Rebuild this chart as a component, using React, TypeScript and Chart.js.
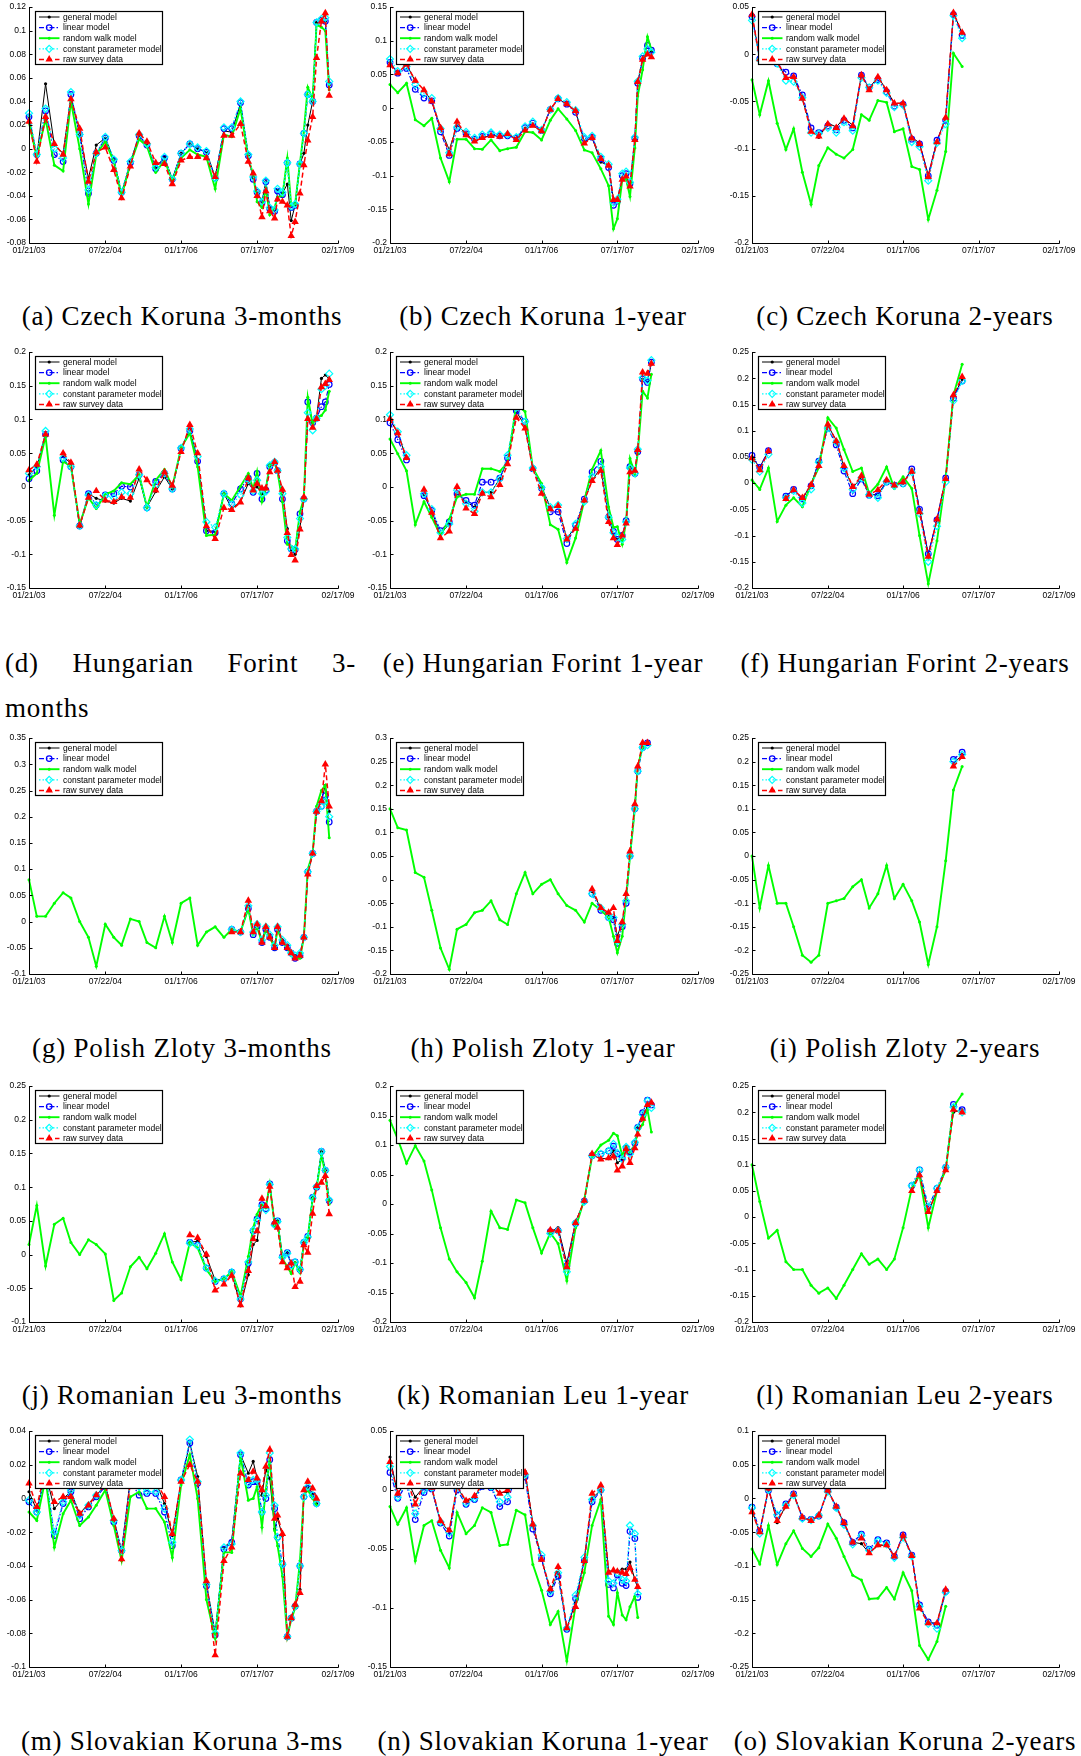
import React, { useEffect, useRef } from "react";
import Chart from "chart.js/auto";

// ---------- shared axis data ----------
const surveyDates = [
  "2003-01-21", "2003-03-18", "2003-05-20", "2003-07-22", "2003-09-23", "2003-11-18",
  "2004-01-20", "2004-03-23", "2004-05-18", "2004-07-22", "2004-09-21", "2004-11-16",
  "2005-01-18", "2005-03-22", "2005-05-17", "2005-07-19", "2005-09-20", "2005-11-15",
  "2006-01-17", "2006-03-21", "2006-05-16", "2006-07-18", "2006-09-19", "2006-11-21",
  "2007-01-16", "2007-03-20", "2007-05-15", "2007-06-19", "2007-07-17", "2007-08-21",
  "2007-09-18", "2007-10-16", "2007-11-20", "2007-12-11", "2008-01-15", "2008-02-19",
  "2008-03-18", "2008-04-15", "2008-05-20", "2008-06-17", "2008-07-15", "2008-08-19",
  "2008-09-16", "2008-10-21", "2008-11-18", "2008-12-16",
];
const xTickDates = ["2003-01-21", "2004-07-22", "2006-01-17", "2007-07-17", "2009-02-17"];
const xTickLabels = ["01/21/03", "07/22/04", "01/17/06", "07/17/07", "02/17/09"];
const seriesNames = ["general model", "linear model", "random walk model", "constant parameter model", "raw survey data"];

// ---------- (a) Czech Koruna 3-months ----------
const aRange = [-0.08, 0.12, 0.02];
const aGen = [0.027, -0.007, 0.055, 0.003, -0.004, 0.044, 0.012, -0.025, 0.003, 0.009, -0.009, -0.038, -0.011, 0.011, 0.003, -0.016, -0.007, -0.026, -0.004, 0.004, 0.0, -0.003, -0.024, 0.015, 0.014, 0.038, -0.006, -0.025, -0.037, -0.045, -0.028, -0.050, -0.052, -0.035, -0.038, -0.030, -0.061, -0.048, -0.013, -0.004, 0.020, 0.040, 0.107, 0.109, 0.108, 0.054];
const aLin = [0.027, -0.005, 0.032, -0.005, -0.011, 0.046, 0.012, -0.038, -0.004, 0.009, -0.010, -0.037, -0.012, 0.011, 0.003, -0.017, -0.008, -0.026, -0.004, 0.004, 0.0, -0.003, -0.025, 0.017, 0.017, 0.039, -0.006, -0.026, -0.037, -0.046, -0.028, -0.051, -0.053, -0.036, -0.039, -0.012, -0.050, -0.048, -0.013, 0.013, 0.046, 0.040, 0.107, 0.109, 0.108, 0.054];
const aRw = [0.022, -0.007, 0.025, -0.014, -0.019, 0.040, 0.0, -0.047, -0.005, 0.006, -0.011, -0.040, -0.013, 0.008, 0.002, -0.020, -0.010, -0.027, -0.008, -0.001, -0.005, -0.007, -0.034, 0.012, 0.010, 0.034, -0.008, -0.022, -0.045, -0.050, -0.034, -0.056, -0.050, -0.041, -0.040, -0.008, -0.048, -0.047, -0.012, 0.015, 0.052, 0.042, 0.105, 0.103, 0.100, 0.050];
const aCpm = [0.030, -0.005, 0.034, 0.0, -0.008, 0.048, 0.012, -0.035, -0.004, 0.010, -0.009, -0.037, -0.011, 0.012, 0.004, -0.016, -0.007, -0.026, -0.004, 0.004, 0.001, -0.002, -0.025, 0.018, 0.018, 0.040, -0.005, -0.024, -0.036, -0.045, -0.027, -0.050, -0.052, -0.034, -0.037, -0.012, -0.049, -0.047, -0.013, 0.013, 0.046, 0.040, 0.107, 0.110, 0.111, 0.057];
const aRaw = [0.023, -0.011, 0.027, 0.004, -0.005, 0.042, 0.017, -0.028, -0.003, 0.001, -0.018, -0.042, -0.015, 0.013, 0.006, -0.012, -0.013, -0.030, -0.010, -0.007, -0.007, -0.008, -0.024, 0.011, 0.011, 0.021, -0.011, -0.021, -0.040, -0.058, -0.036, -0.053, -0.059, -0.043, -0.045, -0.048, -0.074, -0.062, -0.038, -0.014, 0.007, 0.027, 0.077, 0.108, 0.115, 0.045];

// ---------- (b) Czech Koruna 1-year ----------
const bRange = [-0.2, 0.15, 0.05];
const bGen = [0.068, 0.052, 0.065, 0.040, 0.027, 0.010, -0.030, -0.062, -0.025, -0.038, -0.049, -0.044, -0.040, -0.042, -0.038, -0.045, -0.030, -0.026, -0.034, -0.002, 0.014, 0.006, -0.004, -0.050, -0.044, -0.080, -0.085, -0.136, -0.136, -0.104, -0.101, -0.116, -0.047, 0.039, 0.072, 0.080, 0.084];
const bLin = [0.068, 0.052, 0.059, 0.028, 0.015, 0.011, -0.035, -0.070, -0.030, -0.038, -0.046, -0.042, -0.038, -0.041, -0.041, -0.044, -0.029, -0.022, -0.033, -0.002, 0.014, 0.006, -0.006, -0.045, -0.043, -0.075, -0.088, -0.144, -0.138, -0.100, -0.097, -0.112, -0.045, 0.037, 0.074, 0.093, 0.086];
const bRw = [0.035, 0.023, 0.037, -0.017, -0.026, -0.015, -0.074, -0.109, -0.046, -0.046, -0.060, -0.061, -0.047, -0.063, -0.060, -0.058, -0.035, -0.036, -0.047, -0.018, -0.001, -0.016, -0.033, -0.062, -0.066, -0.090, -0.115, -0.179, -0.164, -0.107, -0.105, -0.131, -0.059, 0.018, 0.057, 0.106, 0.087];
const bCpm = [0.073, 0.055, 0.062, 0.035, 0.022, 0.015, -0.030, -0.066, -0.028, -0.035, -0.044, -0.039, -0.036, -0.039, -0.039, -0.043, -0.027, -0.020, -0.032, -0.002, 0.015, 0.009, -0.003, -0.043, -0.041, -0.072, -0.083, -0.140, -0.135, -0.097, -0.094, -0.110, -0.043, 0.040, 0.077, 0.088, 0.083];
const bRaw = [0.064, 0.052, 0.065, 0.041, 0.027, 0.010, -0.029, -0.068, -0.020, -0.040, -0.049, -0.044, -0.041, -0.042, -0.038, -0.047, -0.033, -0.026, -0.034, -0.002, 0.014, 0.006, -0.004, -0.052, -0.044, -0.075, -0.085, -0.136, -0.136, -0.106, -0.101, -0.116, -0.047, 0.039, 0.072, 0.080, 0.076];

// ---------- (c) Czech Koruna 2-years ----------
const cRange = [-0.2, 0.05, 0.05];
const cGen = [0.042, -0.005, 0.002, -0.008, -0.025, -0.024, -0.047, -0.080, -0.088, -0.073, -0.077, -0.068, -0.075, -0.022, -0.036, -0.024, -0.038, -0.052, -0.052, -0.088, -0.094, -0.128, -0.092, -0.067, 0.044, 0.022];
const cLin = [0.040, -0.005, 0.0, -0.010, -0.019, -0.023, -0.043, -0.078, -0.083, -0.076, -0.080, -0.070, -0.078, -0.022, -0.035, -0.027, -0.040, -0.055, -0.053, -0.090, -0.095, -0.129, -0.091, -0.070, 0.042, 0.020];
const cRw = [-0.027, -0.064, -0.028, -0.073, -0.101, -0.079, -0.125, -0.159, -0.118, -0.099, -0.106, -0.110, -0.101, -0.064, -0.070, -0.049, -0.051, -0.082, -0.079, -0.119, -0.122, -0.175, -0.144, -0.103, 0.001, -0.013];
const cCpm = [0.036, -0.006, 0.0, -0.010, -0.028, -0.029, -0.046, -0.083, -0.084, -0.078, -0.083, -0.072, -0.081, -0.025, -0.035, -0.028, -0.041, -0.056, -0.054, -0.093, -0.098, -0.134, -0.094, -0.074, 0.041, 0.017];
const cRaw = [0.042, -0.005, 0.002, -0.008, -0.025, -0.024, -0.047, -0.082, -0.087, -0.074, -0.078, -0.068, -0.076, -0.022, -0.038, -0.024, -0.038, -0.052, -0.052, -0.089, -0.095, -0.130, -0.093, -0.067, 0.044, 0.023];

// ---------- (d) Hungarian Forint 3-months ----------
const dRange = [-0.15, 0.2, 0.05];
const dGen = [0.018, 0.030, 0.078, null, 0.045, 0.035, -0.060, -0.010, -0.017, -0.021, -0.024, -0.017, -0.021, 0.013, -0.030, -0.007, 0.015, -0.003, 0.057, 0.085, 0.040, -0.065, -0.066, -0.010, -0.032, -0.022, 0.005, -0.003, 0.0, -0.010, -0.001, 0.030, 0.038, 0.025, -0.008, -0.062, -0.095, -0.100, -0.060, -0.018, 0.101, 0.095, 0.104, 0.161, 0.166, 0.160];
const dLin = [0.012, 0.024, 0.078, null, 0.040, 0.030, -0.058, -0.010, -0.027, -0.012, -0.010, 0.001, 0.0, 0.018, -0.031, 0.008, 0.020, -0.003, 0.057, 0.083, 0.038, -0.065, -0.068, -0.010, -0.025, -0.003, 0.013, -0.008, 0.020, -0.018, -0.005, 0.030, 0.036, 0.024, -0.018, -0.080, -0.092, -0.093, -0.040, -0.018, 0.126, 0.095, 0.102, 0.119, 0.126, 0.152];
const dRw = [0.010, 0.020, 0.075, -0.042, 0.038, 0.030, -0.055, -0.016, -0.032, -0.011, -0.006, 0.006, 0.004, 0.018, -0.030, 0.010, 0.026, 0.0, 0.058, 0.080, 0.030, -0.072, -0.071, -0.010, -0.020, 0.001, 0.020, -0.003, 0.023, -0.022, -0.003, 0.033, 0.035, 0.022, -0.022, -0.085, -0.088, -0.094, -0.037, -0.017, 0.133, 0.093, 0.103, 0.106, 0.114, 0.142];
const dCpm = [0.020, 0.030, 0.083, null, 0.043, 0.030, -0.058, -0.012, -0.027, -0.013, -0.016, -0.008, -0.010, 0.018, -0.031, 0.003, 0.020, -0.003, 0.058, 0.086, 0.045, -0.052, -0.060, -0.010, -0.026, -0.012, 0.010, -0.006, 0.010, -0.010, -0.007, 0.032, 0.037, 0.024, -0.010, -0.075, -0.092, -0.092, -0.047, -0.018, 0.110, 0.084, 0.102, 0.145, 0.150, 0.168];
const dRaw = [0.025, 0.033, 0.078, null, 0.050, 0.036, -0.057, -0.016, -0.006, -0.020, -0.022, -0.015, -0.016, 0.026, 0.010, -0.005, 0.022, 0.002, 0.052, 0.092, 0.050, -0.058, -0.077, -0.031, -0.034, -0.023, 0.013, -0.005, 0.005, -0.002, -0.002, 0.022, 0.037, 0.024, -0.004, -0.068, -0.101, -0.109, -0.063, -0.015, 0.101, 0.088, 0.101, 0.148, 0.153, 0.159];

// ---------- (e) Hungarian Forint 1-year ----------
const eRange = [-0.15, 0.2, 0.05];
const eGen = [0.100, 0.080, 0.042, null, -0.012, -0.036, -0.070, -0.055, -0.010, -0.022, -0.030, -0.008, -0.008, 0.012, 0.040, 0.112, 0.090, 0.028, 0.0, -0.030, -0.030, -0.076, -0.060, -0.020, 0.010, 0.028, -0.045, -0.070, -0.078, -0.072, -0.052, 0.030, 0.022, 0.052, 0.160, 0.156, 0.183];
const eLin = [0.095, 0.070, 0.040, null, -0.013, -0.035, -0.065, -0.052, -0.010, -0.020, -0.027, 0.007, 0.007, 0.013, 0.043, 0.113, 0.097, 0.027, -0.002, -0.037, -0.037, -0.084, -0.057, -0.018, 0.022, 0.038, -0.045, -0.066, -0.078, -0.072, -0.050, 0.030, 0.020, 0.052, 0.160, 0.155, 0.185];
const eRw = [0.071, 0.049, 0.024, -0.056, -0.022, -0.045, -0.072, -0.048, -0.015, -0.011, -0.011, 0.027, 0.027, 0.023, 0.036, 0.122, 0.112, 0.028, 0.005, -0.056, -0.063, -0.112, -0.076, -0.020, 0.026, 0.054, -0.030, -0.060, -0.059, -0.085, -0.052, 0.042, 0.019, 0.050, 0.142, 0.132, 0.167];
const eCpm = [0.107, 0.082, 0.047, null, -0.010, -0.033, -0.068, -0.055, -0.005, -0.025, -0.036, -0.008, -0.008, 0.012, 0.047, 0.118, 0.097, 0.028, -0.001, -0.030, -0.027, -0.077, -0.055, -0.022, 0.015, 0.030, -0.045, -0.068, -0.075, -0.078, -0.052, 0.028, 0.020, 0.056, 0.162, 0.158, 0.188];
const eRaw = [0.101, 0.080, 0.043, null, -0.004, -0.038, -0.076, -0.066, 0.0, -0.032, -0.040, -0.010, -0.015, 0.003, 0.034, 0.103, 0.087, 0.027, -0.010, -0.033, -0.028, -0.078, -0.062, -0.020, 0.009, 0.024, -0.052, -0.076, -0.086, -0.072, -0.054, 0.022, 0.024, 0.055, 0.170, 0.168, 0.183];

// ---------- (f) Hungarian Forint 2-years ----------
const fRange = [-0.2, 0.25, 0.05];
const fGen = [0.050, 0.030, 0.062, null, -0.025, -0.012, -0.030, -0.002, 0.040, 0.110, 0.082, 0.030, -0.008, 0.010, -0.022, -0.022, 0.004, -0.004, 0.0, 0.026, -0.050, -0.135, -0.070, 0.010, 0.165, 0.198];
const fLin = [0.053, 0.030, 0.062, null, -0.025, -0.012, -0.030, -0.005, 0.042, 0.105, 0.073, 0.023, -0.020, 0.008, -0.023, -0.024, 0.002, -0.004, -0.001, 0.027, -0.050, -0.135, -0.070, 0.010, 0.162, 0.195];
const fRw = [0.006, -0.012, 0.029, -0.073, -0.042, -0.028, -0.045, -0.002, 0.030, 0.125, 0.105, 0.064, 0.022, 0.029, -0.020, -0.002, 0.031, -0.010, 0.012, -0.010, -0.100, -0.192, -0.110, 0.010, 0.168, 0.227];
const fCpm = [0.045, 0.022, 0.055, null, -0.028, -0.015, -0.038, -0.012, 0.040, 0.105, 0.078, 0.028, -0.012, 0.010, -0.022, -0.028, 0.003, -0.005, -0.001, 0.021, -0.058, -0.150, -0.082, 0.002, 0.157, 0.195];
const fRaw = [0.048, 0.025, 0.061, null, -0.030, -0.013, -0.028, -0.003, 0.033, 0.112, 0.080, 0.033, -0.007, 0.014, -0.022, -0.013, 0.006, -0.004, 0.002, 0.022, -0.055, -0.140, -0.069, 0.008, 0.168, 0.203];

// ---------- (g) Polish Zloty 3-months (models from survey #24) ----------
const gRange = [-0.1, 0.35, 0.05];
const gStart = 24;
const gGen = [-0.015, -0.02, 0.03, -0.02, -0.005, -0.035, -0.01, -0.025, -0.045, -0.01, -0.035, -0.045, -0.06, -0.065, -0.06, -0.03, 0.09, 0.13, 0.21, 0.23, 0.26, 0.21];
const gLin = [-0.015, -0.02, 0.025, -0.025, -0.01, -0.04, -0.015, -0.03, -0.05, -0.015, -0.04, -0.05, -0.06, -0.07, -0.065, -0.03, 0.095, 0.13, 0.21, 0.22, 0.24, 0.19];
const gRw = [0.08, 0.01, 0.01, 0.035, 0.055, 0.045, 0.0, -0.03, -0.085, -0.005, -0.03, -0.045, 0.005, 0.0, -0.04, -0.05, 0.01, -0.04, 0.035, 0.045, -0.045, -0.02, -0.01, -0.03, -0.015, -0.02, 0.025, -0.025, -0.01, -0.04, -0.015, -0.03, -0.05, -0.015, -0.04, -0.05, -0.065, -0.07, -0.07, -0.03, 0.1, 0.13, 0.22, 0.25, 0.26, 0.16];
const gCpm = [-0.015, -0.02, 0.03, -0.02, -0.005, -0.035, -0.01, -0.025, -0.045, -0.01, -0.035, -0.045, -0.06, -0.065, -0.06, -0.03, 0.095, 0.13, 0.21, 0.22, 0.23, 0.20];
const gRaw = [-0.02, -0.02, 0.04, -0.02, -0.005, -0.04, -0.01, -0.03, -0.05, -0.01, -0.04, -0.05, -0.06, -0.07, -0.065, -0.03, 0.09, 0.13, 0.21, 0.23, 0.30, 0.22];

// ---------- (h) Polish Zloty 1-year ----------
const hRange = [-0.2, 0.3, 0.05];
const hStart = 24;
const hGen = [-0.025, -0.06, -0.075, -0.08, -0.12, -0.09, -0.04, 0.05, 0.16, 0.24, 0.28, 0.29];
const hLin = [-0.03, -0.065, -0.08, -0.085, -0.135, -0.10, -0.05, 0.05, 0.15, 0.23, 0.28, 0.29];
const hRw = [0.15, 0.11, 0.105, 0.015, 0.005, -0.065, -0.145, -0.19, -0.105, -0.095, -0.07, -0.065, -0.045, -0.085, -0.095, -0.03, 0.015, -0.03, -0.01, 0.0, -0.03, -0.055, -0.065, -0.09, -0.05, -0.065, -0.08, -0.12, -0.155, -0.12, -0.04, 0.05, 0.15, 0.24, 0.28, 0.29];
const hCpm = [-0.03, -0.06, -0.08, -0.08, -0.13, -0.095, -0.045, 0.05, 0.15, 0.23, 0.28, 0.285];
const hRaw = [-0.02, -0.06, -0.07, -0.06, -0.13, -0.09, -0.03, 0.06, 0.16, 0.24, 0.29, 0.29];

// ---------- (i) Polish Zloty 2-years ----------
const iRange = [-0.25, 0.25, 0.05];
const iStart = 24;
const iGen = [0.195, 0.215];
const iLin = [0.205, 0.22];
const iRw = [0.0, -0.11, -0.02, -0.10, -0.10, -0.15, -0.21, -0.225, -0.21, -0.10, -0.095, -0.09, -0.065, -0.05, -0.11, -0.08, -0.02, -0.09, -0.06, -0.095, -0.14, -0.23, -0.15, -0.01, 0.14, 0.19];
const iCpm = [0.2, 0.215];
const iRaw = [0.19, 0.21];

// ---------- (j) Romanian Leu 3-months ----------
const jRange = [-0.1, 0.25, 0.05];
const jStart = 19;
const jGen = [0.018, 0.020, -0.003, -0.038, -0.036, -0.027, -0.076, -0.030, 0.015, 0.021, 0.074, 0.070, 0.105, 0.045, 0.050, -0.002, 0.003, -0.013, -0.012, -0.022, 0.018, 0.025, 0.085, 0.100, 0.153, 0.125, 0.080];
const jLin = [0.018, 0.014, -0.020, -0.040, -0.036, -0.026, -0.066, -0.013, 0.035, 0.053, 0.074, 0.068, 0.105, 0.045, 0.050, -0.003, 0.003, -0.015, -0.011, -0.022, 0.018, 0.027, 0.085, 0.100, 0.153, 0.125, 0.080];
const jRw = [0.015, 0.073, -0.017, 0.045, 0.054, 0.018, 0.0, 0.022, 0.015, 0.001, -0.068, -0.057, -0.018, -0.004, -0.021, 0.002, 0.031, -0.011, -0.037, 0.018, 0.010, -0.022, -0.040, -0.036, -0.025, -0.062, -0.003, 0.040, 0.060, 0.075, 0.070, 0.104, 0.043, 0.048, -0.006, -0.018, -0.028, -0.012, -0.027, 0.016, 0.026, 0.083, 0.098, 0.148, 0.120, 0.075];
const jCpm = [0.017, 0.013, -0.020, -0.039, -0.036, -0.026, -0.066, -0.011, 0.036, 0.051, 0.072, 0.066, 0.104, 0.044, 0.049, -0.004, 0.002, -0.016, -0.011, -0.022, 0.018, 0.026, 0.084, 0.101, 0.153, 0.125, 0.081];
const jRaw = [0.029, 0.025, 0.0, -0.053, -0.044, -0.031, -0.075, -0.024, 0.023, 0.035, 0.083, 0.072, 0.101, 0.048, 0.040, -0.011, -0.020, -0.013, -0.048, -0.040, 0.014, 0.003, 0.061, 0.102, 0.107, 0.117, 0.060];

// ---------- (k) Romanian Leu 1-year ----------
const kRange = [-0.2, 0.2, 0.05];
const kStart = 19;
const kGen = [-0.047, -0.040, -0.100, -0.030, 0.006, 0.083, 0.077, 0.077, 0.090, 0.070, 0.075, 0.095, 0.086, 0.102, 0.130, 0.150, 0.165, 0.170];
const kLin = [-0.047, -0.045, -0.105, -0.033, 0.005, 0.082, 0.085, 0.090, 0.098, 0.085, 0.078, 0.095, 0.088, 0.103, 0.130, 0.155, 0.176, 0.168];
const kRw = [0.142, 0.110, 0.069, 0.099, 0.073, 0.024, -0.040, -0.093, -0.115, -0.133, -0.159, -0.097, -0.012, -0.040, -0.043, 0.007, 0.002, -0.040, -0.083, -0.049, -0.067, -0.130, -0.040, 0.008, 0.080, 0.100, 0.108, 0.120, 0.116, 0.082, 0.097, 0.088, 0.100, 0.122, 0.135, 0.160, 0.122];
const kCpm = [-0.050, -0.045, -0.115, -0.032, 0.004, 0.082, 0.085, 0.090, 0.102, 0.087, 0.076, 0.097, 0.085, 0.105, 0.129, 0.152, 0.175, 0.163];
const kRaw = [-0.044, -0.045, -0.107, -0.032, 0.006, 0.085, 0.076, 0.078, 0.081, 0.057, 0.064, 0.093, 0.070, 0.095, 0.118, 0.145, 0.168, 0.172];

// ---------- (l) Romanian Leu 2-years ----------
const lRange = [-0.2, 0.25, 0.05];
const lStart = 19;
const lGen = [0.055, 0.085, 0.01, 0.05, 0.095, 0.20, 0.205];
const lLin = [0.06, 0.09, 0.02, 0.055, 0.095, 0.215, 0.205];
const lRw = [0.10, 0.03, -0.04, -0.025, -0.085, -0.10, -0.10, -0.13, -0.145, -0.135, -0.155, -0.13, -0.10, -0.07, -0.09, -0.08, -0.10, -0.08, -0.02, 0.055, 0.08, -0.02, 0.05, 0.09, 0.21, 0.235];
const lCpm = [0.06, 0.09, 0.02, 0.055, 0.095, 0.21, 0.20];
const lRaw = [0.05, 0.08, 0.01, 0.05, 0.09, 0.205, 0.20];

// ---------- (m) Slovakian Koruna 3-months ----------
const mRange = [-0.1, 0.04, 0.02];
const mGen = [0.004, -0.007, 0.015, -0.006, 0.0, 0.004, -0.009, -0.003, 0.002, 0.008, -0.012, -0.031, 0.012, 0.008, 0.010, 0.010, -0.003, -0.022, 0.010, 0.033, 0.013, -0.050, -0.080, -0.029, -0.025, 0.026, 0.015, 0.022, 0.012, 0.002, 0.017, 0.012, -0.018, -0.012, -0.022, -0.082, -0.071, -0.064, -0.054, 0.002, 0.007, 0.003, -0.003];
const mLin = [-0.002, -0.008, 0.014, -0.022, -0.003, 0.004, -0.012, -0.005, 0.001, 0.007, -0.014, -0.031, 0.010, 0.002, 0.003, 0.003, -0.008, -0.028, 0.011, 0.033, 0.009, -0.052, -0.081, -0.030, -0.026, 0.026, 0.008, 0.010, 0.010, -0.008, 0.0, 0.023, -0.006, -0.023, -0.039, -0.082, -0.071, -0.064, -0.040, 0.001, 0.006, 0.002, -0.003];
const mRw = [-0.008, -0.013, 0.012, -0.029, -0.009, -0.001, -0.016, -0.011, -0.004, 0.005, -0.016, -0.037, 0.001, 0.004, -0.006, -0.006, -0.014, -0.035, 0.008, 0.026, 0.0, -0.060, -0.083, -0.032, -0.032, 0.025, -0.001, 0.0, 0.007, -0.017, 0.005, 0.025, -0.019, -0.028, -0.046, -0.082, -0.072, -0.065, -0.037, 0.002, 0.005, 0.0, -0.004];
const mCpm = [-0.001, -0.008, 0.015, -0.020, -0.002, 0.005, -0.010, -0.004, 0.002, 0.008, -0.013, -0.031, 0.010, 0.007, 0.004, 0.004, -0.006, -0.026, 0.011, 0.035, 0.010, -0.051, -0.080, -0.029, -0.027, 0.027, 0.009, 0.011, 0.011, -0.008, 0.002, 0.027, -0.004, -0.023, -0.039, -0.082, -0.071, -0.064, -0.040, 0.001, 0.007, 0.002, -0.003];
const mRaw = [0.009, -0.005, 0.018, -0.002, 0.001, 0.001, -0.009, -0.004, 0.002, 0.008, -0.012, -0.036, 0.010, 0.008, 0.012, 0.010, 0.001, -0.021, 0.010, 0.020, 0.010, -0.049, -0.093, -0.037, -0.029, 0.015, 0.011, 0.016, 0.012, 0.005, 0.019, 0.029, -0.012, -0.010, -0.021, -0.082, -0.071, -0.063, -0.056, 0.005, 0.010, 0.006, 0.0];

// ---------- (n) Slovakian Koruna 1-year ----------
const nRange = [-0.15, 0.05, 0.05];
const nGen = [0.028, -0.004, 0.010, -0.006, 0.003, 0.001, -0.027, -0.035, 0.003, -0.010, -0.006, 0.005, 0.004, -0.002, -0.002, 0.016, 0.016, -0.028, -0.058, -0.086, -0.070, -0.117, -0.095, -0.058, -0.007, 0.0, -0.069, -0.068, -0.069, -0.067, -0.067, -0.061, -0.076, -0.083];
const nLin = [0.015, -0.007, 0.005, -0.025, -0.002, 0.001, -0.028, -0.039, 0.0, -0.012, -0.008, 0.003, 0.002, -0.014, -0.010, 0.014, 0.011, -0.033, -0.058, -0.088, -0.073, -0.118, -0.092, -0.060, -0.010, 0.0, -0.080, -0.083, -0.072, -0.079, -0.081, -0.035, -0.041, -0.091];
const nRw = [-0.014, -0.029, -0.015, -0.060, -0.030, -0.026, -0.051, -0.066, -0.019, -0.037, -0.030, -0.015, -0.019, -0.047, -0.046, -0.017, -0.021, -0.063, -0.085, -0.114, -0.103, -0.145, -0.098, -0.070, -0.030, -0.008, -0.107, -0.114, -0.087, -0.106, -0.110, -0.099, -0.090, -0.108];
const nCpm = [0.020, -0.006, 0.008, -0.020, 0.0, 0.002, -0.027, -0.036, 0.002, -0.011, -0.007, 0.004, 0.003, -0.010, -0.006, 0.015, 0.013, -0.030, -0.055, -0.086, -0.070, -0.117, -0.089, -0.057, -0.008, 0.0, -0.077, -0.079, -0.070, -0.076, -0.077, -0.030, -0.037, -0.088];
const nRaw = [0.024, -0.003, 0.010, -0.012, 0.005, 0.002, -0.026, -0.034, 0.003, -0.009, -0.005, 0.005, 0.004, -0.003, 0.0, 0.015, 0.015, -0.029, -0.059, -0.084, -0.065, -0.117, -0.099, -0.060, -0.003, 0.004, -0.070, -0.068, -0.069, -0.070, -0.071, -0.066, -0.076, -0.082];

// ---------- (o) Slovakian Koruna 2-years ----------
const oRange = [-0.25, 0.1, 0.05];
const oGen = [-0.018, -0.050, 0.015, -0.036, -0.010, 0.007, -0.028, -0.033, -0.026, 0.012, -0.012, -0.037, -0.065, -0.067, -0.081, -0.070, -0.069, -0.086, -0.055, -0.084, -0.160, -0.184, -0.185, -0.136];
const oLin = [-0.013, -0.048, 0.012, -0.025, -0.008, 0.007, -0.029, -0.031, -0.026, 0.012, -0.013, -0.036, -0.065, -0.053, -0.075, -0.061, -0.066, -0.086, -0.054, -0.084, -0.158, -0.183, -0.188, -0.138];
const oRw = [-0.075, -0.097, -0.040, -0.098, -0.067, -0.048, -0.074, -0.086, -0.073, -0.038, -0.059, -0.086, -0.114, -0.121, -0.149, -0.148, -0.132, -0.149, -0.110, -0.137, -0.218, -0.239, -0.212, -0.160];
const oCpm = [-0.014, -0.052, 0.013, -0.024, -0.010, 0.005, -0.030, -0.032, -0.025, 0.010, -0.014, -0.039, -0.068, -0.055, -0.077, -0.063, -0.068, -0.088, -0.058, -0.086, -0.160, -0.186, -0.193, -0.139];
const oRaw = [-0.020, -0.050, 0.015, -0.033, -0.012, 0.006, -0.028, -0.033, -0.025, 0.012, -0.012, -0.036, -0.065, -0.059, -0.081, -0.069, -0.069, -0.086, -0.055, -0.085, -0.163, -0.185, -0.185, -0.135];

const captions = [
  "(a) Czech Koruna 3-months", "(b) Czech Koruna 1-year", "(c) Czech Koruna 2-years",
  "(d) Hungarian Forint 3-months", "(e) Hungarian Forint 1-year", "(f) Hungarian Forint 2-years",
  "(g) Polish Zloty 3-months", "(h) Polish Zloty 1-year", "(i) Polish Zloty 2-years",
  "(j) Romanian Leu 3-months", "(k) Romanian Leu 1-year", "(l) Romanian Leu 2-years",
  "(m) Slovakian Koruna 3-ms", "(n) Slovakian Koruna 1-year", "(o) Slovakian Koruna 2-years",
];

// ---------- panel table (built from the arrays above) ----------
type Panel = { range: number[]; start: number; series: (number | null)[][] };
const PANELS: Panel[] = [
  { range: aRange, start: 0, series: [aGen, aLin, aRw, aCpm, aRaw] },
  { range: bRange, start: 0, series: [bGen, bLin, bRw, bCpm, bRaw] },
  { range: cRange, start: 0, series: [cGen, cLin, cRw, cCpm, cRaw] },
  { range: dRange, start: 0, series: [dGen, dLin, dRw, dCpm, dRaw] },
  { range: eRange, start: 0, series: [eGen, eLin, eRw, eCpm, eRaw] },
  { range: fRange, start: 0, series: [fGen, fLin, fRw, fCpm, fRaw] },
  { range: gRange, start: gStart, series: [gGen, gLin, gRw, gCpm, gRaw] },
  { range: hRange, start: hStart, series: [hGen, hLin, hRw, hCpm, hRaw] },
  { range: iRange, start: iStart, series: [iGen, iLin, iRw, iCpm, iRaw] },
  { range: jRange, start: jStart, series: [jGen, jLin, jRw, jCpm, jRaw] },
  { range: kRange, start: kStart, series: [kGen, kLin, kRw, kCpm, kRaw] },
  { range: lRange, start: lStart, series: [lGen, lLin, lRw, lCpm, lRaw] },
  { range: mRange, start: 0, series: [mGen, mLin, mRw, mCpm, mRaw] },
  { range: nRange, start: 0, series: [nGen, nLin, nRw, nCpm, nRaw] },
  { range: oRange, start: 0, series: [oGen, oLin, oRw, oCpm, oRaw] },
];

// ---------- layout & style ----------
const DAY0 = Date.UTC(2003, 0, 21);
const toDay = (s: string) => {
  const [y, m, d] = s.split("-").map(Number);
  return Math.round((Date.UTC(y, m - 1, d) - DAY0) / 86400000);
};
const surveyDays = surveyDates.map(toDay);
const xTickDays = xTickDates.map(toDay);

const COL_LEFT = [29, 390, 752];
const COL_W = [309, 308, 307];
const ROW_TOP = [7, 352, 738, 1086, 1431];
const PLOT_H = 236;
const PAD_L = 40, PAD_T = 8, PAD_R = 26, PAD_B = 22;
const CAP_X = [182, 543, 905];
const CAP_Y = [316, 663, 1048, 1395, 1741];
const TICK_FONT = '"Liberation Sans", Arial, Helvetica, sans-serif';

const STYLES = [
  { color: "#000000", width: 1, dash: [] as number[], point: "circle", r: 1.6, fill: true },
  { color: "#0000ff", width: 1.2, dash: [5, 2, 1.5, 2], point: "circle", r: 2.8, fill: false },
  { color: "#00ff00", width: 1.9, dash: [] as number[], point: "circle", r: 1.5, fill: true },
  { color: "#00ffff", width: 1.2, dash: [1.5, 2], point: "rectRot", r: 3.5, fill: false },
  { color: "#ff0000", width: 1.5, dash: [5, 3], point: "triangle", r: 4.3, fill: true },
];

function fmtY(v: number) {
  const r = Math.round(v * 10000) / 10000;
  return r === 0 ? "0" : String(r);
}

function drawMarker(ctx: CanvasRenderingContext2D, st: any, x: number, y: number) {
  ctx.setLineDash([]);
  ctx.beginPath();
  const r = st.r;
  if (st.point === "circle") ctx.arc(x, y, r, 0, Math.PI * 2);
  else if (st.point === "rectRot") {
    ctx.moveTo(x, y - r); ctx.lineTo(x + r, y); ctx.lineTo(x, y + r); ctx.lineTo(x - r, y); ctx.closePath();
  } else {
    ctx.moveTo(x, y - r); ctx.lineTo(x + r * 0.866, y + r * 0.5); ctx.lineTo(x - r * 0.866, y + r * 0.5); ctx.closePath();
  }
  if (st.fill) { ctx.fillStyle = st.color; ctx.fill(); }
  else { ctx.strokeStyle = st.color; ctx.lineWidth = 1.2; ctx.stroke(); }
}

const axesLegendPlugin = {
  id: "axesLegend",
  afterDraw(chart: any) {
    const { ctx, chartArea: a, scales } = chart;
    ctx.save();
    const L = Math.round(a.left) + 0.5;
    const B = Math.round(a.bottom) + 0.5;
    ctx.strokeStyle = "#000";
    ctx.lineWidth = 1;
    ctx.setLineDash([]);
    ctx.beginPath();
    ctx.moveTo(L, Math.round(a.top));
    ctx.lineTo(L, B);
    ctx.lineTo(Math.round(a.right) + 0.5, B);
    scales.y.ticks.forEach((t: any) => {
      const y = Math.round(scales.y.getPixelForValue(t.value)) + 0.5;
      ctx.moveTo(L, y); ctx.lineTo(L + 3, y);
    });
    scales.x.ticks.forEach((t: any) => {
      const x = Math.round(scales.x.getPixelForValue(t.value)) + 0.5;
      ctx.moveTo(x, B); ctx.lineTo(x, B - 3);
    });
    ctx.stroke();

    const bx = Math.round(a.left + 6) + 0.5;
    const by = Math.round(a.top + 4) + 0.5;
    const bw = 127, bh = 53;
    ctx.fillStyle = "#fff";
    ctx.fillRect(bx, by, bw, bh);
    ctx.strokeStyle = "#000";
    ctx.lineWidth = 1.2;
    ctx.strokeRect(bx, by, bw, bh);
    ctx.font = `8.5px ${TICK_FONT}`;
    ctx.textBaseline = "middle";
    ctx.textAlign = "left";
    STYLES.forEach((st, i) => {
      const y = by + 5.5 + i * 10.6;
      ctx.beginPath();
      ctx.strokeStyle = st.color;
      ctx.lineWidth = st.width;
      ctx.setLineDash(st.dash);
      ctx.moveTo(bx + 3.5, y);
      ctx.lineTo(bx + 24, y);
      ctx.stroke();
      drawMarker(ctx, st, bx + 13.7, y);
      ctx.fillStyle = "#000";
      ctx.fillText(seriesNames[i], bx + 27.5, y + 0.5);
    });
    ctx.restore();
  },
};

function PanelChart({ p, idx }: { p: Panel; idx: number }) {
  const ref = useRef<HTMLCanvasElement | null>(null);
  const col = idx % 3;
  const row = Math.floor(idx / 3);
  const W = PAD_L + COL_W[col] + PAD_R;
  const H = PAD_T + PLOT_H + PAD_B;

  useEffect(() => {
    if (!ref.current) return;
    const [yMin, yMax, yStep] = p.range;
    const n = Math.round((yMax - yMin) / yStep);
    const yTicks = Array.from({ length: n + 1 }, (_, i) => Math.round((yMin + i * yStep) * 10000) / 10000);
    const datasets = p.series.map((vals, si) => {
      const st = STYLES[si];
      const start = si === 2 ? 0 : p.start;
      return {
        label: seriesNames[si],
        data: vals.map((v, i) => ({ x: surveyDays[start + i], y: v })),
        borderColor: st.color,
        backgroundColor: st.color,
        borderWidth: st.width,
        borderDash: st.dash,
        pointStyle: st.point,
        pointRadius: st.r,
        pointHoverRadius: st.r,
        pointBackgroundColor: st.fill ? st.color : "rgba(0,0,0,0)",
        pointBorderColor: st.color,
        pointBorderWidth: st.fill ? 0 : 1.2,
        tension: 0,
        spanGaps: false,
        fill: false,
        clip: false,
        order: 5 - si,
      };
    });
    const tickFont = { family: TICK_FONT, size: 8.5 };
    const chart = new Chart(ref.current, {
      type: "line",
      data: { datasets } as any,
      options: {
        responsive: false,
        maintainAspectRatio: false,
        animation: false,
        devicePixelRatio: 1,
        events: [],
        layout: { padding: { left: 0, top: PAD_T, right: PAD_R, bottom: 0 } },
        plugins: { legend: { display: false }, tooltip: { enabled: false }, title: { display: false } },
        scales: {
          x: {
            type: "linear",
            min: 0,
            max: xTickDays[xTickDays.length - 1],
            grid: { display: false, drawTicks: false },
            border: { display: false },
            ticks: {
              autoSkip: false, maxRotation: 0, minRotation: 0, padding: 3, color: "#000", font: tickFont,
              callback: (_v: any, i: number) => xTickLabels[i],
            },
            afterBuildTicks: (s: any) => { s.ticks = xTickDays.map((v) => ({ value: v })); },
            afterFit: (s: any) => { s.height = PAD_B; },
          },
          y: {
            type: "linear",
            min: yMin,
            max: yMax,
            grid: { display: false, drawTicks: false },
            border: { display: false },
            ticks: {
              autoSkip: false, padding: 3, color: "#000", font: tickFont,
              callback: (v: any) => fmtY(Number(v)),
            },
            afterBuildTicks: (s: any) => { s.ticks = yTicks.map((v) => ({ value: v })); },
            afterFit: (s: any) => { s.width = PAD_L; },
          },
        },
      } as any,
      plugins: [axesLegendPlugin],
    });
    return () => chart.destroy();
  }, []);

  return (
    <canvas
      ref={ref}
      width={W}
      height={H}
      style={{ position: "absolute", left: COL_LEFT[col] - PAD_L, top: ROW_TOP[row] - PAD_T, width: W, height: H }}
    />
  );
}

const capStyle: React.CSSProperties = {
  position: "absolute",
  fontFamily: '"Liberation Serif", "DejaVu Serif", serif',
  fontSize: 27,
  letterSpacing: "0.8px",
  lineHeight: "32px",
  height: 32,
  whiteSpace: "nowrap",
  color: "#000",
};

export default function App() {
  return (
    <div style={{ position: "absolute", left: 0, top: 0, width: 1081, height: 1756, background: "#fff", overflow: "hidden" }}>
      {PANELS.map((p, i) => (
        <PanelChart key={i} p={p} idx={i} />
      ))}
      {captions.map((c, i) => {
        const col = i % 3;
        const row = Math.floor(i / 3);
        if (i === 3) {
          const parts = c.split(" ");
          return (
            <React.Fragment key={i}>
              <div style={{ ...capStyle, left: 5, top: CAP_Y[row] - 16, width: 351, display: "flex", justifyContent: "space-between" }}>
                <span>{parts[0]}</span>
                <span>{parts[1]}</span>
                <span>{parts[2]}</span>
                <span>{parts[3].split("-")[0] + "-"}</span>
              </div>
              <div style={{ ...capStyle, left: 5, top: CAP_Y[row] + 45 - 16 }}>{parts[3].split("-")[1]}</div>
            </React.Fragment>
          );
        }
        return (
          <div key={i} style={{ ...capStyle, left: CAP_X[col] - 200, width: 400, textAlign: "center", top: CAP_Y[row] - 16 }}>
            {c}
          </div>
        );
      })}
    </div>
  );
}
